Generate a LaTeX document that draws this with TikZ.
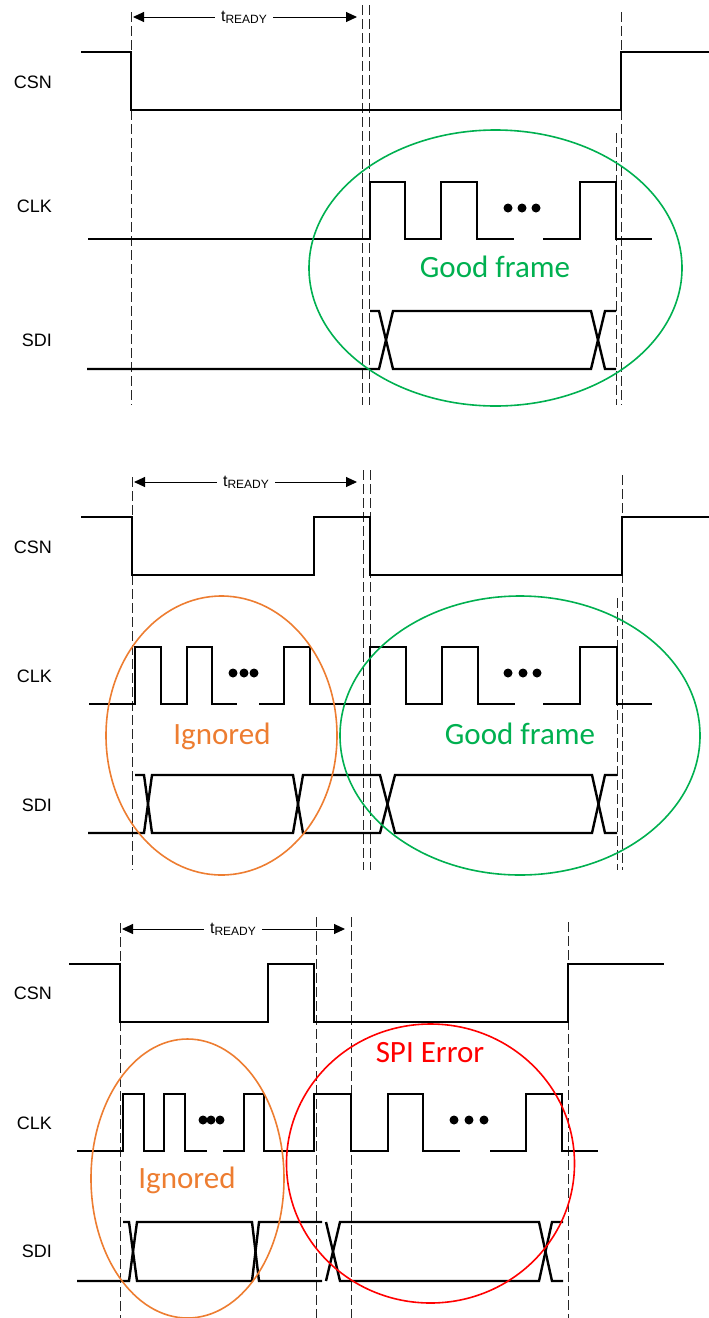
\documentclass[tikz,border=0pt]{standalone}
\usepackage{fontspec}
\setmainfont{Liberation Sans}
\newfontfamily\calibri{Carlito}
\usetikzlibrary{arrows.meta}
\definecolor{goodgreen}{RGB}{0,176,80}
\definecolor{ignorange}{RGB}{237,125,49}
\definecolor{errred}{RGB}{255,0,0}
\newcommand{\tready}{t\raisebox{-2pt}{\fontsize{12}{12}\selectfont READY}}

\begin{document}
\begin{tikzpicture}[x=1pt,y=-1pt,
    >={Triangle[length=11pt,width=10pt]},
    sig/.style={line width=2.4pt},
    guide/.style={line width=1pt,dash pattern=on 10pt off 4pt,black!85},
    span/.style={line width=1pt},
    lbl/.style={anchor=base east,inner sep=0pt,font=\fontsize{18}{18}\selectfont},
    tlbl/.style={inner sep=6pt,font=\fontsize{16}{16}\selectfont},
    note/.style={anchor=base,inner sep=0pt,font=\calibri\fontsize{31}{31}\selectfont},
    ring/.style={line width=1.6pt}]
\useasboundingbox (0,0) rectangle (709,1318);

% good frame
\node[lbl] (csn1) at (52,88) {CSN};
\node[lbl] (clk1) at (52,212) {CLK};
\node[lbl] (sdi1) at (52,346) {SDI};
\foreach \x/\y in {131/12,362/5,369/5,621/12,616/133}
    \draw[guide] (\x,\y) -- (\x,405);
\coordinate (ra1) at (133,17);
\coordinate (rb1) at (357,17);
\node[tlbl] (tr1) at (244,17) {\tready};
\draw[span,<-] (ra1) -- (tr1);
\draw[span,->] (tr1) -- (rb1);
\draw[sig] (81,52) -- (131,52) -- (131,110) -- (621,110) -- (621,52) -- (709,52);
\draw[sig] (88,239) -- (370,239) -- (370,182) -- (405,182) -- (405,239) -- (441,239)
    -- (441,182) -- (477,182) -- (477,239) -- (514,239);
\draw[sig] (543,239) -- (580,239) -- (580,182) -- (616,182) -- (616,239) -- (652,239);
\foreach \x in {508,522,536}
    \fill (\x,208) circle (4.5pt);
\draw[sig] (87,369) -- (379,369) -- (393,311) -- (591,311) -- (605,369) -- (616,369);
\draw[sig] (370,311) -- (379,311) -- (393,369) -- (591,369) -- (605,311) -- (616,311);
\draw[ring,goodgreen] (495.5,268) ellipse [x radius=186.5pt,y radius=138pt];
\node[note,goodgreen] (good1) at (495,277) {Good frame};

% ignored then good frame
\node[lbl] (csn2) at (52,553) {CSN};
\node[lbl] (clk2) at (52,682) {CLK};
\node[lbl] (sdi2) at (52,811) {SDI};
\foreach \x/\y in {132/477,363/470,370/470,622/475,617/598}
    \draw[guide] (\x,\y) -- (\x,870);
\coordinate (ra2) at (134,482);
\coordinate (rb2) at (357,482);
\node[tlbl] (tr2) at (246,482) {\tready};
\draw[span,<-] (ra2) -- (tr2);
\draw[span,->] (tr2) -- (rb2);
\draw[sig] (81,517) -- (132,517) -- (132,575) -- (314,575) -- (314,517) -- (370,517)
    -- (370,575) -- (622,575) -- (622,517) -- (709,517);
\draw[sig] (89,704) -- (135,704) -- (135,647) -- (161,647) -- (161,704) -- (187,704)
    -- (187,647) -- (212,647) -- (212,704) -- (237,704);
\draw[sig] (259,704) -- (284,704) -- (284,647) -- (310,647) -- (310,704) -- (370,704)
    -- (370,647) -- (406,647) -- (406,704) -- (442,704) -- (442,647) -- (478,647)
    -- (478,704) -- (515,704);
\draw[sig] (543,704) -- (580,704) -- (580,647) -- (617,647) -- (617,704) -- (652,704);
\foreach \x in {233,244,254,508,523,537}
    \fill (\x,673) circle (4.5pt);
\draw[sig] (88,833) -- (144,833) -- (152,775) -- (293,775) -- (303,833) -- (380,833)
    -- (395,775) -- (592,775) -- (605,833) -- (617,833);
\draw[sig] (135,775) -- (144,775) -- (152,833) -- (293,833) -- (303,775) -- (380,775)
    -- (395,833) -- (592,833) -- (605,775) -- (617,775);
\draw[ring,ignorange] (221.5,735.5) ellipse [x radius=115.5pt,y radius=139.5pt];
\draw[ring,goodgreen] (520,735.5) ellipse [x radius=180pt,y radius=139.5pt];
\node[note,ignorange] (ign2) at (222,744) {Ignored};
\node[note,goodgreen] (good2) at (520,744) {Good frame};

% ignored then spi error
\node[lbl] (csn3) at (52,999) {CSN};
\node[lbl] (clk3) at (52,1129) {CLK};
\node[lbl] (sdi3) at (52,1257) {SDI};
\foreach \x/\y in {120/923,316/917,351/917,568/922}
    \draw[guide] (\x,\y) -- (\x,1318);
\coordinate (ra3) at (122,929);
\coordinate (rb3) at (345,929);
\node[tlbl] (tr3) at (233,929) {\tready};
\draw[span,<-] (ra3) -- (tr3);
\draw[span,->] (tr3) -- (rb3);
\draw[sig] (69,964) -- (120,964) -- (120,1022) -- (268,1022) -- (268,964) -- (314,964)
    -- (314,1022) -- (568,1022) -- (568,964) -- (664,964);
\draw[sig] (77,1151) -- (123,1151) -- (123,1094) -- (144,1094) -- (144,1151) -- (164,1151)
    -- (164,1094) -- (185,1094) -- (185,1151) -- (207,1151);
\draw[sig] (223,1151) -- (244,1151) -- (244,1094) -- (264,1094) -- (264,1151) -- (314,1151)
    -- (314,1094) -- (351,1094) -- (351,1151) -- (388,1151) -- (388,1094) -- (423,1094)
    -- (423,1151) -- (460,1151);
\draw[sig] (490,1151) -- (526,1151) -- (526,1094) -- (562,1094) -- (562,1151) -- (598,1151);
\foreach \x in {203,211,220,454,469,484}
    \fill (\x,1120) circle (4.5pt);
\draw[sig] (77,1281) -- (129,1281) -- (137,1222) -- (252,1222) -- (259,1281) -- (322,1281);
\draw[sig] (123,1222) -- (129,1222) -- (137,1281) -- (252,1281) -- (259,1222) -- (322,1222);
\draw[sig] (326,1222) -- (340,1281) -- (539,1281) -- (552,1222) -- (563,1222);
\draw[sig] (326,1281) -- (340,1222) -- (539,1222) -- (552,1281) -- (563,1281);
\draw[ring,ignorange] (187.5,1178.5) ellipse [x radius=96.5pt,y radius=139.5pt];
\draw[ring,errred] (430.5,1163.5) ellipse [x radius=144pt,y radius=139.5pt];
\node[note,ignorange] (ign3) at (187,1188) {Ignored};
\node[note,errred] (err3) at (430,1062) {SPI Error};
\end{tikzpicture}
\end{document}
